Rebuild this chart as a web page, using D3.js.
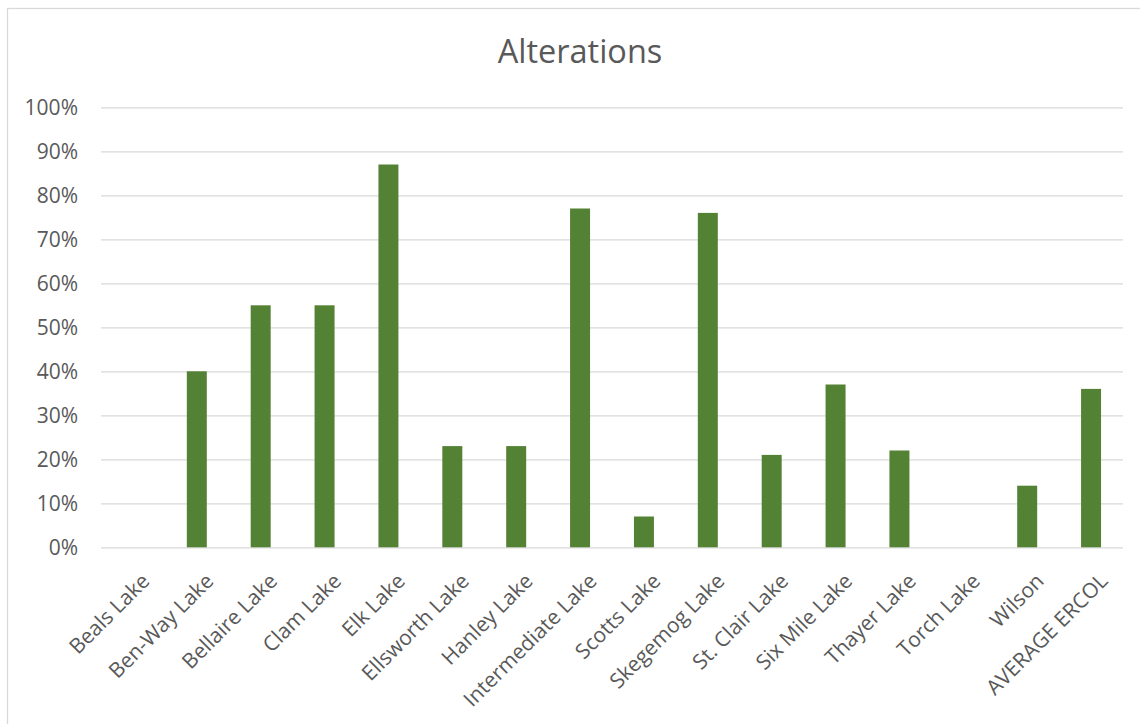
<!DOCTYPE html>
<html>
<head>
<meta charset="utf-8">
<script src="https://cdn.jsdelivr.net/npm/d3@7"></script>
<style>
  html, body { margin: 0; padding: 0; background: #fff; }
  .grid line { stroke: #d9d9d9; stroke-width: 1.3; }
  .grid .domain { display: none; }
  .axis text { fill: #595959; font-family: 'Open Sans', sans-serif; }
</style>
</head>
<body>
<script>
const categories = [
  'Beals Lake', 'Ben-Way Lake', 'Bellaire Lake', 'Clam Lake', 'Elk Lake',
  'Ellsworth Lake', 'Hanley Lake', 'Intermediate Lake', 'Scotts Lake',
  'Skegemog Lake', 'St. Clair Lake', 'Six Mile Lake', 'Thayer Lake',
  'Torch Lake', 'Wilson', 'AVERAGE ERCOL'
]
const values = [0, 0.40, 0.55, 0.55, 0.87, 0.23, 0.23, 0.77, 0.07, 0.76, 0.21, 0.37, 0.22, 0, 0.14, 0.36]
const yTicks = [0, 0.1, 0.2, 0.3, 0.4, 0.5, 0.6, 0.7, 0.8, 0.9, 1.0]
const title = 'Alterations'

const width = 1140
const height = 724
const margin = { top: 107.3, left: 101, right: 17, bottom: 176.7 }

const svg = d3.select('body')
  .append('svg')
  .attr('width', width)
  .attr('height', height)
  .style('display', 'block')

// chart frame
svg.append('rect')
  .attr('x', 7.5)
  .attr('y', 8.5)
  .attr('width', width)
  .attr('height', height)
  .attr('fill', 'none')
  .attr('stroke', '#d9d9d9')
  .attr('stroke-width', 1.3)

svg.append('text')
  .attr('x', 580)
  .attr('y', 63)
  .attr('text-anchor', 'middle')
  .style('font-family', "'Open Sans', sans-serif")
  .style('font-size', '32.5px')
  .style('fill', '#595959')
  .text(title)

const plotW = width - margin.left - margin.right
const plotH = height - margin.top - margin.bottom

const g = svg.append('g')
  .attr('transform', `translate(${margin.left},${margin.top})`)

const x = d3.scaleBand()
  .domain(categories)
  .range([0, plotW])
  .paddingInner(0.687)
  .paddingOuter(0.3435)

const y = d3.scaleLinear()
  .domain([0, 1])
  .range([plotH, 0])

g.append('g')
  .attr('class', 'grid')
  .call(d3.axisLeft(y).tickValues(yTicks).tickSize(-plotW).tickFormat(''))

g.append('g')
  .attr('class', 'axis axis-y')
  .call(d3.axisLeft(y).tickValues(yTicks).tickSize(0).tickPadding(23).tickFormat(d3.format('.0%')))
  .call((a) => a.select('.domain').remove())
  .selectAll('text')
  .style('font-size', '21px')

g.append('g')
  .selectAll('rect')
  .data(values)
  .enter()
  .append('rect')
  .attr('x', (d, i) => x(categories[i]))
  .attr('y', (d) => y(d))
  .attr('width', x.bandwidth())
  .attr('height', (d) => plotH - y(d))
  .attr('fill', '#548235')

// rotated category labels
const xAxis = g.append('g')
  .attr('class', 'axis axis-x')
  .attr('transform', `translate(0,${plotH})`)
  .call(d3.axisBottom(x).tickSize(0).tickPadding(0))
xAxis.select('.domain').remove()
xAxis.selectAll('text')
  .style('font-size', '21px')
  .attr('text-anchor', 'end')
  .attr('dy', 0)
  .attr('transform', 'translate(18,35) rotate(-45)')
</script>
</body>
</html>
